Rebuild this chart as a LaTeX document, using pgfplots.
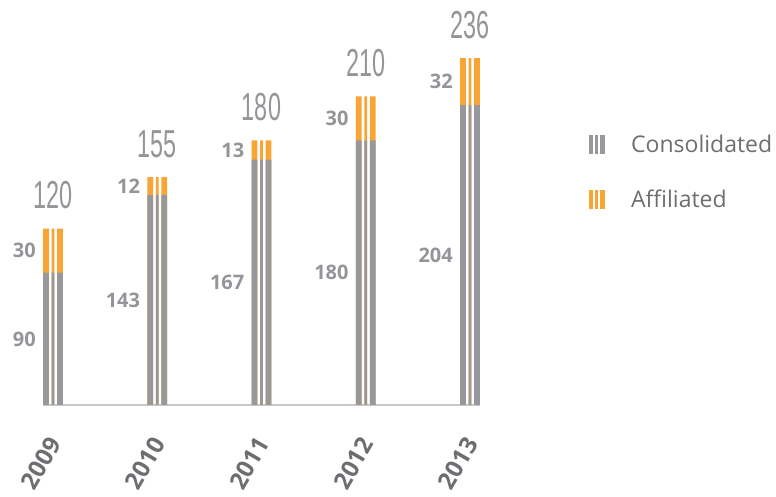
\documentclass[border=0pt]{standalone}
\usepackage{fontspec}
\setmainfont{Open Sans}
\newfontfamily\totfont{Liberation Sans}
\usepackage{pgfplots}
\pgfplotsset{compat=1.18}
\definecolor{gbar}{HTML}{97989B}
\definecolor{obar}{HTML}{F9A533}
\definecolor{lbl}{HTML}{939598}
\definecolor{dtext}{HTML}{6D6E71}
\definecolor{axc}{HTML}{C7C8CA}
\begin{document}
\begin{tikzpicture}[x=1pt,y=1pt]
\path[use as bounding box] (-43pt,-92pt) rectangle (733pt,405pt);
\begin{axis}[
  at={(0pt,0pt)}, anchor=south west,
  scale only axis, width=437pt, height=404.25pt,
  xmin=-0.0959, xmax=4.0959, ymin=0, ymax=275,
  axis x line*=bottom, axis y line=none,
  x axis line style={draw=axc, line width=1.5pt, -},
  major tick length=0pt,
  xtick={0,1,2,3,4},
  xticklabels={2009,2010,2011,2012,2013},
  xticklabel style={font=\bfseries\fontsize{24}{24}\selectfont, text=dtext, inner sep=0pt,
     xshift=1.6pt, yshift=-34.3pt, rotate=60, anchor=east},
  clip=false,
  legend style={at={(1.2425,0.6729)}, anchor=north west, draw=none, fill=none,
     font=\fontsize{23}{23}\selectfont, text=dtext, row sep=36pt, nodes={inner sep=0pt}},
  legend cell align=left,
]
% orange (total) stripes
\addplot[ybar, bar width=5.7pt, bar shift=-7pt, fill=obar, draw=none, forget plot]
  coordinates {(0,120) (1,155) (2,180) (3,210) (4,236)};
\addplot[ybar, bar width=2.7pt, bar shift=0pt, fill=obar, draw=none, forget plot,
  nodes near coords,
  nodes near coords style={anchor=base, inner sep=0pt, yshift=20pt, text=lbl},
  nodes near coords={\totfont\fontsize{39}{39}\selectfont\scalebox{0.6}[1]{\pgfmathprintnumber[assume math mode=true]{\pgfplotspointmeta}}}]
  coordinates {(0,120) (1,155) (2,180) (3,210) (4,236)};
\addplot[ybar, bar width=5.7pt, bar shift=7pt, fill=obar, draw=none, forget plot]
  coordinates {(0,120) (1,155) (2,180) (3,210) (4,236)};
% gray (consolidated) stripes
\addplot[ybar, bar width=5.7pt, bar shift=-7pt, fill=gbar, draw=none, forget plot]
  coordinates {(0,90) (1,143) (2,167) (3,180) (4,204)};
\addplot[ybar, bar width=2.7pt, bar shift=0pt, fill=gbar, draw=none, forget plot]
  coordinates {(0,90) (1,143) (2,167) (3,180) (4,204)};
\addplot[ybar, bar width=5.7pt, bar shift=7pt, fill=gbar, draw=none, forget plot]
  coordinates {(0,90) (1,143) (2,167) (3,180) (4,204)};
% segment labels
\addplot[only marks, mark=none, draw=none, forget plot,
  nodes near coords={\bfseries\fontsize{20}{20}\selectfont\pgfplotspointmeta},
  point meta=explicit symbolic,
  nodes near coords style={anchor=east, inner sep=0pt, xshift=-17pt, text=lbl}]
  coordinates {(0,45)[90] (0,105)[30] (1,71.5)[143] (1,149)[12] (2,83.5)[167] (2,173.5)[13]
               (3,90)[180] (3,195)[30] (4,102)[204] (4,220)[32]};
\addlegendimage{legend image code/.code={
   \path[draw=none,fill=none] (0pt,0pt) -- (42pt,0pt);
   \fill[gbar,draw=none] (0pt,-9.5pt) rectangle (4pt,9.5pt);
   \fill[gbar,draw=none] (6pt,-9.5pt) rectangle (9pt,9.5pt);
   \fill[gbar,draw=none] (11pt,-9.5pt) rectangle (16pt,9.5pt);}}
\addlegendentry{Consolidated}
\addlegendimage{legend image code/.code={
   \path[draw=none,fill=none] (0pt,0pt) -- (42pt,0pt);
   \fill[obar,draw=none] (0pt,-9.5pt) rectangle (4pt,9.5pt);
   \fill[obar,draw=none] (6pt,-9.5pt) rectangle (9pt,9.5pt);
   \fill[obar,draw=none] (11pt,-9.5pt) rectangle (16pt,9.5pt);}}
\addlegendentry{Affiliated}
\end{axis}
\end{tikzpicture}
\end{document}
